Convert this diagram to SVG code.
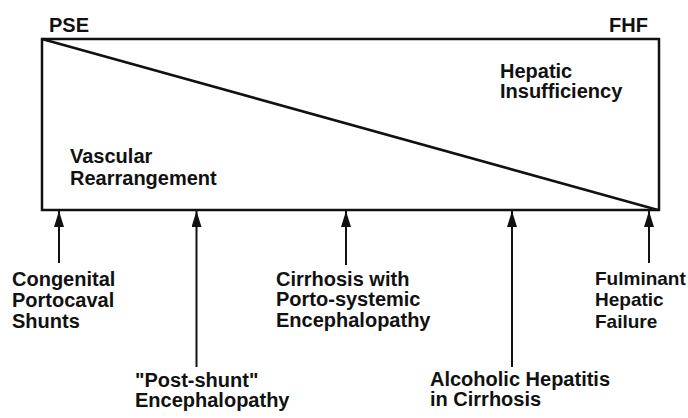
<svg xmlns="http://www.w3.org/2000/svg" width="688" height="418" viewBox="0 0 688 418">
<style>
text{font-family:"Liberation Sans",Arial,Helvetica,sans-serif;font-weight:bold;font-size:20px;fill:#111}
.frame{fill:none;stroke:#111;stroke-width:2.5}
.arr{stroke:#111;stroke-width:2;fill:none}
</style>
<defs>
<marker id="ah" markerWidth="16" markerHeight="10" refX="16" refY="5" orient="auto" markerUnits="userSpaceOnUse" viewBox="0 0 16 10">
<path d="M0,0 L16,5 L0,10 Z" fill="#111"/>
</marker>
</defs>
<rect width="688" height="418" fill="#fff"/>
<g id="chart">
<rect class="frame" x="42" y="39" width="617" height="171"/>
<line class="frame" x1="42" y1="39" x2="658" y2="210"/>
<text x="49" y="32">PSE</text>
<text x="609" y="32">FHF</text>
</g>
<g id="vascular"><text x="70" y="163">Vascular</text><text x="70" y="185">Rearrangement</text></g>
<g id="hepatic"><text x="500" y="78">Hepatic</text><text x="500" y="98">Insufficiency</text></g>
<g id="connectors">
<line class="arr" x1="59" y1="263" x2="59" y2="211" marker-end="url(#ah)"/>
<line class="arr" x1="196.5" y1="367" x2="196.5" y2="211" marker-end="url(#ah)"/>
<line class="arr" x1="346" y1="265" x2="346" y2="211" marker-end="url(#ah)"/>
<line class="arr" x1="512" y1="367" x2="512" y2="211" marker-end="url(#ah)"/>
<line class="arr" x1="649" y1="263" x2="649" y2="211" marker-end="url(#ah)"/>
</g>
<g id="congenital"><text x="12" y="286">Congenital</text><text x="12" y="307">Portocaval</text><text x="12" y="328">Shunts</text></g>
<g id="postshunt"><text x="135" y="387">"Post-shunt"</text><text x="135" y="407">Encephalopathy</text></g>
<g id="cirrhosis"><text x="276" y="286">Cirrhosis with</text><text x="276" y="306">Porto-systemic</text><text x="276" y="327">Encephalopathy</text></g>
<g id="alcoholic"><text x="430" y="386">Alcoholic Hepatitis</text><text x="430" y="406">in Cirrhosis</text></g>
<g id="fulminant" style="font-size:19px"><text x="595" y="285" style="font-size:19px">Fulminant</text><text x="595" y="306" style="font-size:19px">Hepatic</text><text x="595" y="328" style="font-size:19px">Failure</text></g>
</svg>
